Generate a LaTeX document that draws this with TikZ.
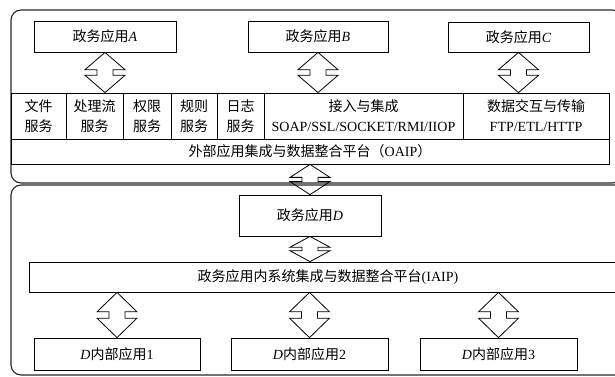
\documentclass[tikz,border=0pt]{standalone}
\usepackage{fontspec}
\setmainfont{Liberation Serif}
\newfontfamily\zh{Noto Sans CJK SC}
\usetikzlibrary{calc}
\newcommand\la[1]{{\rmfamily #1}}
\newcommand\li[1]{{\rmfamily\itshape #1}}
\newcommand\blockarrow[2]{%
  \draw[barrow] let \p1=(#1), \p2=(#2), \n1={0.43*(\y1-\y2)} in
    (\x1,\y1) -- (\x1+20pt,\y1-\n1) -- (\x1+8pt,\y1-\n1) -- (\x1+8pt,\y2+\n1)
    -- (\x1+20pt,\y2+\n1) -- (\x1,\y2) -- (\x1-20pt,\y2+\n1) -- (\x1-8pt,\y2+\n1)
    -- (\x1-8pt,\y1-\n1) -- (\x1-20pt,\y1-\n1) -- cycle;}
\begin{document}
\begin{tikzpicture}[x=1pt,y=-1pt,
  outer/.style={draw=black!85, line width=1.1pt, rounded corners=10pt},
  box/.style={draw, line width=0.8pt, inner sep=0pt, font=\zh\fontsize{14}{20}\selectfont, align=center},
  cell/.style={box, minimum height=46pt},
  barrow/.style={draw, line width=0.8pt, line join=miter}]
\useasboundingbox (0,0) rectangle (615,376);
\clip (0,0) rectangle (615,376);
% outer frames
\draw[outer] (11,10) rectangle (622,183);
\draw[outer] (11,185) rectangle (640,375);
% top applications
\node[box, minimum width=142pt, minimum height=31pt] (A) at (105,36.5) {政务应用\li{A}};
\node[box, minimum width=140pt, minimum height=31pt] (B) at (318,36.5) {政务应用\li{B}};
\node[box, minimum width=141pt, minimum height=30pt] (C) at (518.5,37) {政务应用\li{C}};
% service cells
\node[cell, minimum width=55pt] (c1) at (38.5,116) {文件\\服务};
\node[cell, minimum width=57pt] (c2) at (94.5,116) {处理流\\服务};
\node[cell, minimum width=48pt] (c3) at (147,116) {权限\\服务};
\node[cell, minimum width=46pt] (c4) at (194,116) {规则\\服务};
\node[cell, minimum width=47pt] (c5) at (240.5,116) {日志\\服务};
\node[cell, minimum width=199pt] (c6) at (363.5,116) {接入与集成\\\la{SOAP/SSL/SOCKET/RMI/IIOP}};
\node[cell, minimum width=146pt] (c7) at (536,116) {数据交互与传输\\\la{FTP/ETL/HTTP}};
\node[box, minimum width=598pt, minimum height=25pt] (oaip) at (310,151.5) {外部应用集成与数据整合平台（\la{OAIP}）};
% D
\node[box, minimum width=142pt, minimum height=41pt] (D) at (310,215.5) {政务应用\li{D}};
\node[box, minimum width=598pt, minimum height=30pt] (iaip) at (328,277) {政务应用内系统集成与数据整合平台\la{(IAIP)}};
\node[box, minimum width=166pt, minimum height=32pt] (d1) at (117,354) {\li{D}内部应用\la{1}};
\node[box, minimum width=157pt, minimum height=32pt] (d2) at (309.5,354) {\li{D}内部应用\la{2}};
\node[box, minimum width=157pt, minimum height=32pt] (d3) at (498.5,354) {\li{D}内部应用\la{3}};
% arrows
\blockarrow{A.south}{A.south |- c2.north}
\blockarrow{B.south}{B.south |- c6.north}
\blockarrow{C.south}{C.south |- c7.north}
\blockarrow{D.north |- oaip.south}{D.north}
\blockarrow{D.south}{D.south |- iaip.north}
\blockarrow{d1.north |- iaip.south}{d1.north}
\blockarrow{d2.north |- iaip.south}{d2.north}
\blockarrow{d3.north |- iaip.south}{d3.north}
\end{tikzpicture}
\end{document}
